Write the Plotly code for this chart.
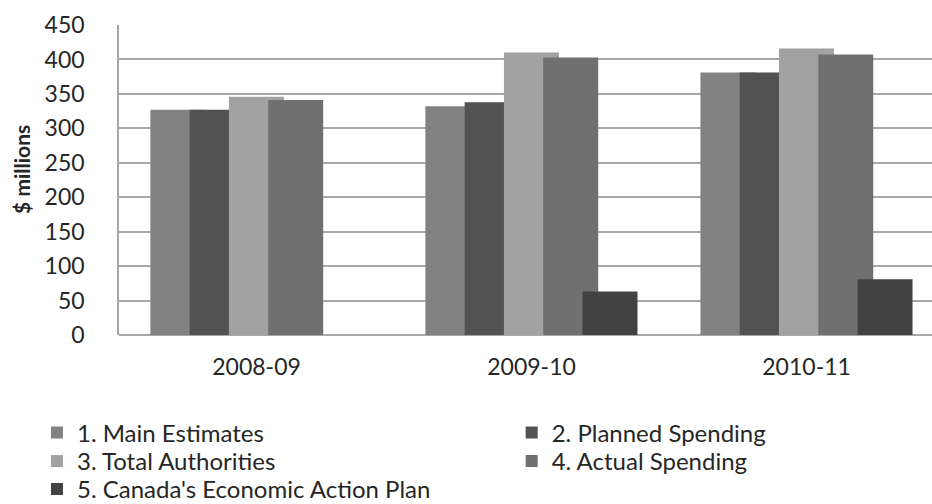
import plotly.graph_objects as go

# Fiscal years on the category axis
years = ["2008-09", "2009-10", "2010-11"]

# Spending by series, $ millions
main_estimates = [327, 332, 381]
planned_spending = [327, 338, 381]
total_authorities = [346, 410, 416]
actual_spending = [341, 403, 407]
economic_action_plan = [None, 63, 81]

series_names = [
    "1. Main Estimates",
    "2. Planned Spending",
    "3. Total Authorities",
    "4. Actual Spending",
    "5. Canada's Economic Action Plan",
]
series_values = [main_estimates, planned_spending, total_authorities,
                 actual_spending, economic_action_plan]
series_colors = ["#828282", "#525252", "#a2a2a2", "#707070", "#424242"]

# Excel-style overlapping bars: wide bars drawn with a smaller step
bar_width = 0.2
bar_step = 0.1428
group_left = -0.386

# Legend laid out as a two-column grid: (column left, row centre) in paper units
legend_names = ["legend", "legend2", "legend3", "legend4", "legend5"]
legend_cols = [-0.1009, 0.483]
legend_rows = [-0.316, -0.408, -0.498]
legend_slots = [(0, 0), (1, 0), (0, 1), (1, 1), (0, 2)]

FONT = "Lato"
TEXT = "#262626"
GRID = "#a8a8a8"

fig = go.Figure()
for i, (name, vals, col) in enumerate(zip(series_names, series_values, series_colors)):
    fig.add_trace(go.Bar(
        x=years, y=vals, name=name,
        width=bar_width, offset=group_left + i * bar_step,
        marker=dict(color=col, line=dict(width=0)),
        legend=legend_names[i],
    ))

legend_layout = {}
for lname, (c, r) in zip(legend_names, legend_slots):
    legend_layout[lname] = dict(
        x=legend_cols[c], y=legend_rows[r],
        xanchor="left", yanchor="middle", orientation="v",
        font=dict(family=FONT, size=24, color=TEXT),
        bgcolor="rgba(0,0,0,0)", itemwidth=30,
    )

fig.update_layout(
    width=932, height=504,
    margin=dict(l=119, r=0, t=25, b=169, autoexpand=False),
    paper_bgcolor="white", plot_bgcolor="white",
    barmode="overlay",
    showlegend=True,
    xaxis=dict(
        type="category", range=[-0.5, 2.456],
        showgrid=False, showline=False, zeroline=False, ticks="",
        tickfont=dict(family=FONT, size=23, color=TEXT),
        ticklabelstandoff=16,
    ),
    yaxis=dict(
        range=[0, 450], dtick=50, tick0=0,
        showgrid=True, gridcolor=GRID, gridwidth=1.5,
        showline=True, linecolor=GRID, linewidth=1.5,
        zeroline=True, zerolinecolor=GRID, zerolinewidth=1.5,
        ticks="", ticklabelstandoff=28,
        tickfont=dict(family=FONT, size=23, color=TEXT),
    ),
    annotations=[dict(
        text="<b>$ millions</b>", textangle=-90,
        xref="paper", yref="paper", x=-0.12, y=0.534,
        xanchor="center", yanchor="middle", showarrow=False,
        font=dict(family=FONT, size=21, color=TEXT),
    )],
    **legend_layout,
)

fig.write_html("out.html")
